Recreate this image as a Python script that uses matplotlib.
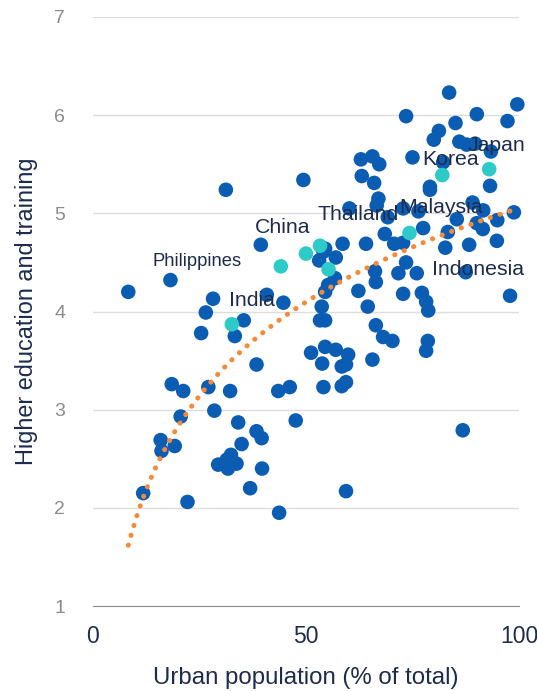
import numpy as np
import matplotlib
matplotlib.use("Agg")
import matplotlib.pyplot as plt

plt.rcParams['font.family'] = ['Liberation Sans', 'DejaVu Sans']

# other economies (urban %, score)
urban = [83.6, 99.6, 73.5, 90.1, 97.3, 85.1, 81.2, 80.0, 86.0, 87.7,
         89.7, 93.4, 62.9, 65.6, 67.2, 75.0, 82.2, 63.1, 66.0, 31.2,
         49.4, 93.2, 79.1, 79.1, 67.0, 66.6, 60.2, 69.2, 72.8, 76.4,
         89.1, 91.6, 98.8, 85.4, 94.9, 90.1, 91.5, 83.3, 77.5, 68.5,
         70.7, 72.8, 82.7, 88.3, 94.8, 39.4, 54.5, 54.1, 53.1, 57.0,
         58.6, 64.1, 73.5, 66.2, 66.4, 71.7, 76.0, 87.5, 56.8, 55.2,
         54.5, 62.3, 72.8, 77.2, 78.2, 78.7, 97.9, 18.2, 8.3, 28.2,
         26.5, 40.8, 44.7, 53.7, 64.5, 35.4, 25.4, 33.3, 53.3, 54.5,
         66.4, 68.1, 70.3, 78.6, 78.2, 65.6, 51.2, 54.5, 57.0, 59.9,
         53.8, 58.4, 59.4, 38.4, 54.1, 58.4, 59.4, 46.2, 43.5, 32.2,
         27.1, 18.5, 21.2, 28.5, 20.6, 34.1, 47.6, 38.4, 39.6, 34.9,
         15.9, 16.1, 19.2, 86.8, 32.4, 29.4, 31.7, 33.7, 31.4, 39.7,
         36.9, 11.8, 22.2, 59.4, 43.7]
score = [6.23, 6.11, 5.99, 6.01, 5.94, 5.92, 5.84, 5.75, 5.73, 5.70,
         5.71, 5.63, 5.55, 5.58, 5.50, 5.57, 5.52, 5.38, 5.31, 5.24,
         5.34, 5.28, 5.27, 5.24, 5.15, 5.08, 5.05, 4.96, 5.05, 5.02,
         5.11, 5.03, 5.01, 4.94, 4.93, 4.90, 4.84, 4.81, 4.85, 4.79,
         4.69, 4.70, 4.65, 4.68, 4.72, 4.68, 4.64, 4.61, 4.52, 4.55,
         4.69, 4.69, 4.50, 4.41, 4.30, 4.39, 4.39, 4.40, 4.34, 4.27,
         4.20, 4.21, 4.18, 4.19, 4.10, 4.01, 4.16, 4.32, 4.20, 4.13,
         3.99, 4.17, 4.09, 4.05, 4.05, 3.91, 3.78, 3.75, 3.91, 3.91,
         3.86, 3.74, 3.70, 3.70, 3.60, 3.51, 3.58, 3.64, 3.61, 3.56,
         3.47, 3.44, 3.46, 3.46, 3.23, 3.24, 3.28, 3.23, 3.19, 3.19,
         3.23, 3.26, 3.19, 2.99, 2.93, 2.87, 2.89, 2.78, 2.71, 2.65,
         2.69, 2.58, 2.63, 2.79, 2.54, 2.44, 2.40, 2.45, 2.49, 2.40,
         2.20, 2.15, 2.06, 2.17, 1.95]

# highlighted Asian economies
hl_names = ['India', 'Philippines', 'China', 'Thailand', 'Indonesia',
            'Malaysia', 'Korea', 'Japan']
hl_urban = [32.6, 44.1, 50.0, 53.3, 55.3, 74.3, 82.0, 93.0]
hl_score = [3.87, 4.46, 4.59, 4.67, 4.43, 4.80, 5.39, 5.45]

# label anchor positions (left edge, vertical centre) and font sizes
lbl_x = [31.9, 14.1, 38.0, 52.6, 79.6, 71.8, 77.2, 88.0]
lbl_y = [4.11, 4.51, 4.86, 4.99, 4.43, 5.06, 5.55, 5.69]
lbl_size = [15.3, 13.2, 15.3, 15.3, 15.3, 15.3, 15.3, 15.3]

navy = '#1d2c4c'

fig = plt.figure(figsize=(5.37, 6.91), dpi=100)
ax = fig.add_axes([0.173, 0.123, 0.7935, 0.8524])

ax.scatter(urban, score, s=110, color='#0b5db3', edgecolors='none',
           zorder=3, clip_on=False)
ax.scatter(hl_urban, hl_score, s=110, color='#2dcac8', edgecolors='none',
           zorder=3, clip_on=False)

# logarithmic trend line fitted on all points
all_x = np.array(urban + hl_urban)
all_y = np.array(score + hl_score)
b, a = np.polyfit(np.log(all_x), all_y, 1)
tx = np.linspace(all_x.min(), 100, 200)
ax.plot(tx, a + b * np.log(tx), color='#f58a3b', lw=3.6,
        linestyle=(0, (0.05, 2.0)), dash_capstyle='round', zorder=4)

for name, lx, ly, fs in zip(hl_names, lbl_x, lbl_y, lbl_size):
    ax.text(lx, ly, name, fontsize=fs, color=navy, ha='left', va='center',
            zorder=5)

ax.set_xlim(0, 100)
ax.set_ylim(1, 7)
ax.set_xticks([0, 50, 100])
ax.set_yticks(range(1, 8))
ax.grid(axis='y', color='#dddddd', lw=1)
ax.set_axisbelow(True)
for s in ['top', 'right', 'left']:
    ax.spines[s].set_visible(False)
ax.spines['bottom'].set_color('#8c8c8c')
ax.tick_params(axis='both', length=0)
ax.tick_params(axis='y', labelsize=14, labelcolor='#8c8c8c', pad=20)
ax.tick_params(axis='x', labelsize=16.5, labelcolor=navy, pad=14)

ax.set_xlabel('Urban population (% of total)', fontsize=17.3, color=navy)
ax.set_ylabel('Higher education and training', fontsize=16.9, color=navy)
ax.xaxis.set_label_coords(0.5, -0.103)
ax.yaxis.set_label_coords(-0.129, 0.5)

fig.savefig('out.png', dpi=100)
